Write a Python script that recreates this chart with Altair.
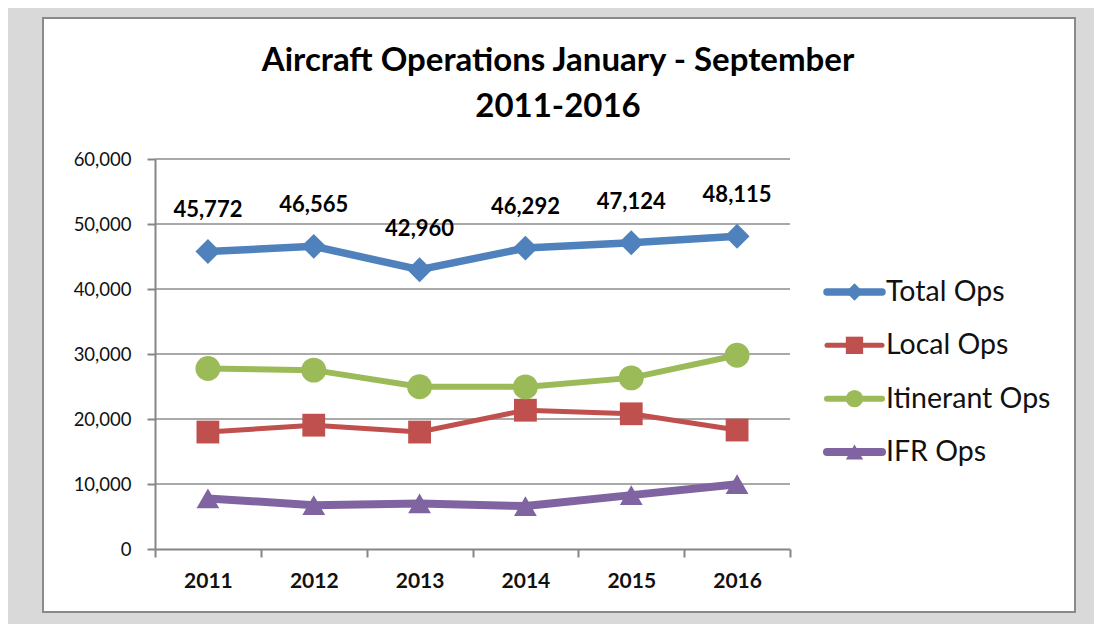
import altair as alt
import pandas as pd

years = [2011, 2012, 2013, 2014, 2015, 2016]
series = ["Total Ops", "Local Ops", "Itinerant Ops", "IFR Ops"]
total_ops = [45772, 46565, 42960, 46292, 47124, 48115]
local_ops = [17994, 19050, 17990, 21350, 20800, 18300]
itinerant_ops = [27778, 27515, 24970, 24942, 26324, 29815]
ifr_ops = [7780, 6750, 7010, 6600, 8290, 9975]
y_ticks = [0, 10000, 20000, 30000, 40000, 50000, 60000]
x_bounds = [2010.5, 2011.5, 2012.5, 2013.5, 2014.5, 2015.5, 2016.5]
title_lines = ["Aircraft Operations January - September", "2011-2016"]

colors = ["#4F81BD", "#C0504D", "#9BBB59", "#8064A2"]
shapes = ["diamond", "square", "circle", "triangle-up"]
line_widths = [7.5, 5, 6, 8]
marker_sizes = [620, 520, 620, 520]

FONT = "Lato"
W, H = 635, 390

rows = []
for s, vals in zip(series, [total_ops, local_ops, itinerant_ops, ifr_ops]):
    for y, v in zip(years, vals):
        rows.append({"year": y, "series": s, "value": v})
df = pd.DataFrame(rows)
df_total = df[df["series"] == "Total Ops"]
df_grid = pd.DataFrame({"value": y_ticks[1:]})
df_legend = pd.DataFrame({"series": series})
df_one = pd.DataFrame({"a": [0]})

color_scale = alt.Scale(domain=series, range=colors)
shape_scale = alt.Scale(domain=series, range=shapes)
sw_scale = alt.Scale(type="ordinal", domain=series, range=line_widths)
size_scale = alt.Scale(type="ordinal", domain=series, range=marker_sizes)

x_enc = alt.X(
    "year:Q",
    scale=alt.Scale(domain=[2010.5, 2016.5], nice=False, zero=False),
    axis=alt.Axis(
        values=x_bounds,
        labelExpr="datum.value < 2016 ? format(datum.value + 0.5, 'd') : ''",
        labelOffset=W / 12,
        labelFont=FONT,
        labelFontSize=21,
        labelFontWeight="bold",
        labelColor="#111111",
        labelPadding=13,
        labelOverlap=False,
        labelBound=False,
        labelFlush=False,
        tickSize=8,
        tickColor="#868686",
        tickWidth=2,
        domainColor="#868686",
        domainWidth=2,
        grid=False,
        title=None,
        zindex=1,
    ),
)
y_scale = alt.Scale(domain=[0, 60000], nice=False)
y_enc = alt.Y(
    "value:Q",
    scale=y_scale,
    axis=alt.Axis(
        values=y_ticks,
        labelExpr="format(datum.value, ',')",
        labelFont=FONT,
        labelFontSize=18.5,
        labelColor="#111111",
        labelPadding=16,
        tickSize=8,
        tickColor="#868686",
        tickWidth=2,
        domainColor="#868686",
        domainWidth=2,
        grid=False,
        title=None,
        zindex=1,
    ),
)

grid = alt.Chart(df_grid).mark_rule(color="#8c8c8c", strokeWidth=1.6).encode(
    y=y_enc,
    x=alt.value(0),
    x2=alt.value(W),
)

lines = alt.Chart(df).mark_line().encode(
    x=x_enc,
    y=y_enc,
    color=alt.Color("series:N", scale=color_scale, legend=None),
    strokeWidth=alt.StrokeWidth("series:N", scale=sw_scale, legend=None),
    detail="series:N",
)

points = alt.Chart(df).mark_point(filled=True, opacity=1).encode(
    x=x_enc,
    y=y_enc,
    color=alt.Color("series:N", scale=color_scale, legend=None),
    shape=alt.Shape("series:N", scale=shape_scale, legend=None),
    size=alt.Size("series:N", scale=size_scale, legend=None),
)

labels = alt.Chart(df_total).mark_text(
    dy=-41, font=FONT, fontSize=22, fontWeight="bold", color="#000000"
).encode(
    x=x_enc,
    y=y_enc,
    text=alt.Text("value:Q", format=","),
)

main = alt.layer(grid, lines, points, labels)

panel = alt.Chart(df_one).mark_rect(
    fill="#ffffff", stroke="#8a8a8a", strokeWidth=2
).encode(
    x=alt.value(-112), x2=alt.value(920), y=alt.value(-141), y2=alt.value(453)
)

title_style = dict(
    font=FONT, fontSize=33, fontWeight="bold", color="#000000",
    align="center", baseline="alphabetic",
)
title1 = alt.Chart(df_one).mark_text(**title_style).encode(
    x=alt.value(403), y=alt.value(-88), text=alt.value(title_lines[0])
)
title2 = alt.Chart(df_one).mark_text(**title_style).encode(
    x=alt.value(403), y=alt.value(-42), text=alt.value(title_lines[1])
)

leg_y = alt.Y(
    "series:N",
    sort=series,
    scale=alt.Scale(type="point", domain=series, range=[133, 293], padding=0),
    axis=None,
)
leg_line = alt.Chart(df_legend).mark_rule(strokeCap="round").encode(
    y=leg_y,
    x=alt.value(672),
    x2=alt.value(727),
    color=alt.Color("series:N", scale=color_scale, legend=None),
    strokeWidth=alt.StrokeWidth("series:N", scale=sw_scale, legend=None),
)
leg_pt = alt.Chart(df_legend).mark_point(filled=True, opacity=1, size=300).encode(
    y=leg_y,
    x=alt.value(699.5),
    color=alt.Color("series:N", scale=color_scale, legend=None),
    shape=alt.Shape("series:N", scale=shape_scale, legend=None),
)
leg_txt = alt.Chart(df_legend).mark_text(
    align="left", baseline="middle", font=FONT, fontSize=28.5, color="#111111"
).encode(
    y=leg_y,
    x=alt.value(731),
    text="series:N",
)
legend = alt.layer(leg_line, leg_pt, leg_txt)

chart = (
    alt.layer(panel, title1, title2, main, legend)
    .resolve_scale(y="independent")
    .properties(
        width=W,
        height=H,
        background="#d9d9d9",
        autosize=alt.AutoSizeParams(type="none"),
        padding={"left": 147, "top": 151, "right": 304, "bottom": 75},
    )
    .configure_view(stroke=None)
)

chart.save("out.html", embed_options={"renderer": "svg", "actions": False})
